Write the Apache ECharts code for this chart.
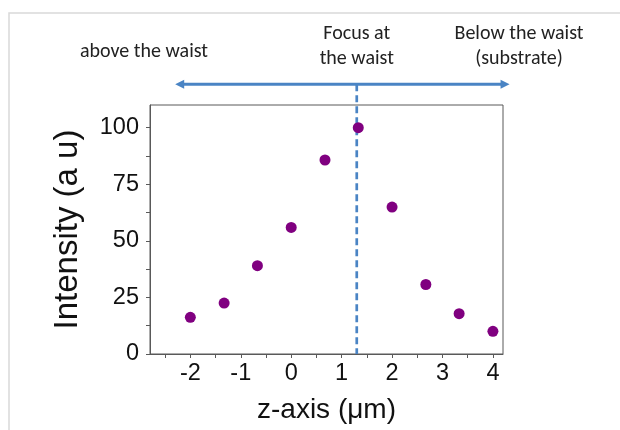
<!DOCTYPE html>
<html>
<head>
<meta charset="utf-8">
<script src="https://cdn.jsdelivr.net/npm/echarts@6/dist/echarts.min.js"></script>
<style>
html,body{margin:0;padding:0;background:#fff;}
#c{width:620px;height:430px;}
</style>
</head>
<body>
<div id="c"></div>
<script>
// ---- data ----
const zValues = [-2, -1.33, -0.67, 0, 0.67, 1.33, 2, 2.67, 3.33, 4];
const intensity = [16.2, 22.5, 39, 55.9, 85.7, 100, 64.9, 30.7, 17.8, 10];
const xTickLabels = [-2, -1, 0, 1, 2, 3, 4];
const xTicks = [-2.5, -2, -1.5, -1, -0.5, 0, 0.5, 1, 1.5, 2, 2.5, 3, 3.5, 4];
const yTickLabels = [0, 25, 50, 75, 100];
const yTicks = [0, 12.5, 25, 37.5, 50, 62.5, 75, 87.5, 100];
const focusZ = 1.3;
const arrowZ = [-2.3, 4.33];
const arrowLevel = 119.2;
const noteLeft = ['above the waist'];
const noteMid = ['Focus at', 'the waist'];
const noteRight = ['Below the waist', '(substrate)'];

const chart = echarts.init(document.getElementById('c'), null, {renderer: 'canvas'});
const axisColor = '#595959';
const tickFont = {fontFamily: 'Liberation Sans, Arial, sans-serif', fontSize: 23.5, color: '#111'};

chart.setOption({
  animation: false,
  grid: {left: 150, right: 117, top: 105, bottom: 76, show: true, borderColor: axisColor, borderWidth: 1},
  xAxis: {
    type: 'value', min: -2.8, max: 4.2,
    name: 'z-axis (μm)', nameLocation: 'middle', nameGap: 42,
    nameTextStyle: {fontFamily: 'Liberation Sans, Arial, sans-serif', fontSize: 28, color: '#111'},
    axisLine: {show: true, onZero: false, lineStyle: {color: axisColor, width: 1}},
    axisTick: {show: true, inside: false, length: 4, customValues: xTicks, lineStyle: {color: axisColor}},
    axisLabel: Object.assign({customValues: xTickLabels, margin: 8}, tickFont),
    splitLine: {show: false}
  },
  yAxis: {
    type: 'value', min: 0, max: 110,
    name: 'Intensity (a u)', nameLocation: 'middle', nameGap: 66,
    nameTextStyle: {fontFamily: 'Liberation Sans, Arial, sans-serif', fontSize: 33, color: '#111'},
    axisLine: {show: true, onZero: false, lineStyle: {color: axisColor, width: 1}},
    axisTick: {show: true, inside: false, length: 4, customValues: yTicks, lineStyle: {color: axisColor}},
    axisLabel: Object.assign({customValues: yTickLabels, margin: 11}, tickFont),
    splitLine: {show: false}
  },
  series: [{
    type: 'scatter',
    data: zValues.map((z, i) => [z, intensity[i]]),
    symbolSize: 11,
    itemStyle: {color: '#800080', opacity: 1},
    z: 5
  }]
});

// annotations positioned through the chart's own scales
const px = (x, y) => chart.convertToPixel({gridIndex: 0}, [x, y]);
const aL = px(arrowZ[0], arrowLevel);
const aR = px(arrowZ[1], arrowLevel);
const fTop = px(focusZ, arrowLevel);
const fBot = px(focusZ, 0);
const blue = '#4a84c4';
const txtFont = '20px Carlito, Lato, "Open Sans", sans-serif';
const head = 9;

chart.setOption({
  graphic: [
    {type: 'rect', shape: {x: 9, y: 13, width: 700, height: 500}, style: {fill: 'none', stroke: '#d9d9d9', lineWidth: 1.5}, silent: true, z: 0},
    {type: 'line', shape: {x1: fTop[0], y1: fTop[1], x2: fBot[0], y2: fBot[1]}, style: {stroke: blue, lineWidth: 2.7, lineDash: [7, 4]}, z: 1},
    {type: 'line', shape: {x1: aL[0] + head - 2, y1: aL[1], x2: aR[0] - head + 2, y2: aR[1]}, style: {stroke: blue, lineWidth: 3}, z: 1},
    {type: 'polygon', shape: {points: [[aL[0], aL[1]], [aL[0] + head, aL[1] - 4.5], [aL[0] + head, aL[1] + 4.5]]}, style: {fill: blue}, z: 1},
    {type: 'polygon', shape: {points: [[aR[0], aR[1]], [aR[0] - head, aR[1] - 4.5], [aR[0] - head, aR[1] + 4.5]]}, style: {fill: blue}, z: 1},
    {type: 'text', x: 144, y: 52, style: {text: noteLeft.join('\n'), font: txtFont, fill: '#222', align: 'center', verticalAlign: 'middle'}},
    {type: 'text', x: fTop[0], y: 46, style: {text: noteMid.join('\n'), font: txtFont, fill: '#222', align: 'center', verticalAlign: 'middle', lineHeight: 25}},
    {type: 'text', x: 519, y: 46, style: {text: noteRight.join('\n'), font: txtFont, fill: '#222', align: 'center', verticalAlign: 'middle', lineHeight: 25}}
  ]
});
</script>
</body>
</html>
